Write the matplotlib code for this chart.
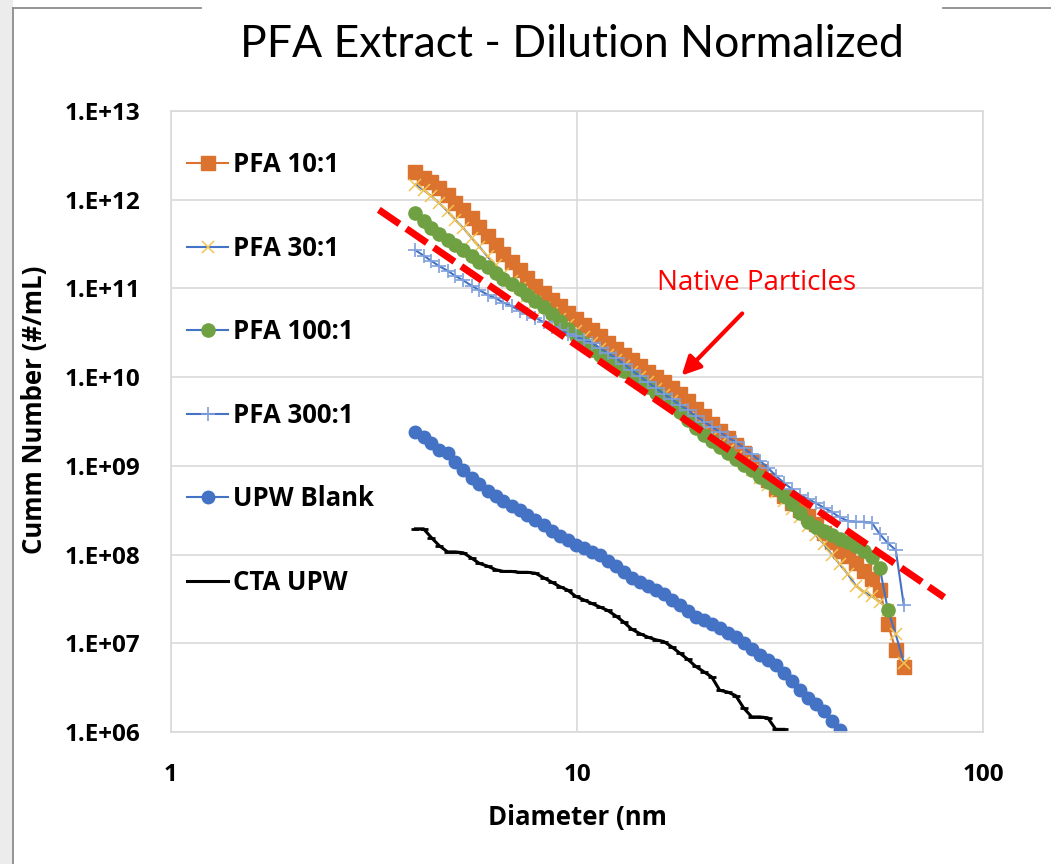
import numpy as np
import matplotlib
matplotlib.use("Agg")
import matplotlib.pyplot as plt
from matplotlib.lines import Line2D
from matplotlib.patches import Rectangle
from matplotlib.ticker import FixedLocator, FixedFormatter, NullLocator

plt.rcParams['font.family'] = ['Open Sans', 'DejaVu Sans']

# ---------------- data ----------------
DIAMETER_NM = [4.00, 4.19, 4.38, 4.58, 4.80, 5.02, 5.25, 5.50, 5.75, 6.02,
               6.30, 6.59, 6.90, 7.22, 7.55, 7.90, 8.27, 8.66, 9.06, 9.48,
               9.92, 10.38, 10.86, 11.37, 11.90, 12.45, 13.03, 13.63, 14.27, 14.93,
               15.62, 16.35, 17.11, 17.90, 18.73, 19.60, 20.52, 21.47, 22.47, 23.51,
               24.60, 25.74, 26.94, 28.19, 29.50, 30.87, 32.30, 33.80, 35.37, 37.01,
               38.73, 40.53, 42.41, 44.38, 46.44, 48.60, 50.86, 53.22, 55.69, 58.28,
               60.98, 63.82]

# cumulative number, stored as log10(#/mL)
PFA_10_LOG10 = [12.31, 12.25, 12.20, 12.13, 12.05, 11.96, 11.88, 11.79, 11.69, 11.59,
                11.49, 11.39, 11.30, 11.21, 11.12, 11.03, 10.95, 10.87, 10.80, 10.72,
                10.65, 10.59, 10.53, 10.46, 10.39, 10.32, 10.25, 10.19, 10.12, 10.06,
                10.00, 9.94, 9.88, 9.81, 9.73, 9.64, 9.56, 9.47, 9.39, 9.31,
                9.24, 9.14, 9.04, 8.94, 8.84, 8.74, 8.66, 8.58, 8.50, 8.43,
                8.34, 8.24, 8.14, 8.04, 7.98, 7.91, 7.82, 7.72, 7.60, 7.22,
                6.92, 6.73]

PFA_30_LOG10 = [12.17, 12.11, 12.04, 11.96, 11.87, 11.77, 11.68, 11.57, 11.47, 11.36,
                11.26, 11.16, 11.08, 11.00, 10.92, 10.85, 10.78, 10.72, 10.66, 10.59,
                10.52, 10.45, 10.39, 10.32, 10.25, 10.19, 10.12, 10.06, 10.00, 9.94,
                9.87, 9.80, 9.73, 9.63, 9.54, 9.46, 9.39, 9.32, 9.25, 9.18,
                9.10, 9.03, 8.95, 8.86, 8.78, 8.70, 8.60, 8.51, 8.42, 8.32,
                8.22, 8.12, 8.00, 7.89, 7.78, 7.65, 7.58, 7.53, 7.47, 7.38,
                7.10, 6.78]

PFA_100_LOG10 = [11.85, 11.76, 11.68, 11.61, 11.55, 11.49, 11.43, 11.36, 11.30, 11.24,
                 11.17, 11.11, 11.05, 10.99, 10.93, 10.86, 10.79, 10.71, 10.63, 10.54,
                 10.46, 10.38, 10.31, 10.25, 10.19, 10.13, 10.07, 10.01, 9.95, 9.89,
                 9.82, 9.75, 9.69, 9.61, 9.52, 9.43, 9.35, 9.28, 9.21, 9.14,
                 9.08, 9.01, 8.95, 8.88, 8.82, 8.75, 8.66, 8.57, 8.47, 8.37,
                 8.31, 8.27, 8.22, 8.17, 8.14, 8.10, 8.04, 7.97, 7.85, 7.38]

PFA_300_LOG10 = [11.43, 11.37, 11.31, 11.25, 11.20, 11.14, 11.09, 11.03, 10.98, 10.93,
                 10.89, 10.84, 10.80, 10.75, 10.71, 10.67, 10.62, 10.57, 10.53, 10.49,
                 10.46, 10.42, 10.39, 10.33, 10.27, 10.22, 10.15, 10.08, 10.01, 9.94,
                 9.88, 9.81, 9.75, 9.69, 9.63, 9.56, 9.50, 9.44, 9.38, 9.32,
                 9.27, 9.20, 9.13, 9.06, 8.98, 8.89, 8.81, 8.74, 8.67, 8.63,
                 8.58, 8.53, 8.48, 8.42, 8.38, 8.37, 8.37, 8.36, 8.23, 8.13,
                 8.05, 7.43]

UPW_BLANK_LOG10 = [9.38, 9.32, 9.26, 9.18, 9.14, 9.04, 8.95, 8.86, 8.79, 8.72,
                   8.66, 8.60, 8.55, 8.50, 8.45, 8.39, 8.33, 8.27, 8.21, 8.16,
                   8.11, 8.07, 8.03, 7.99, 7.93, 7.87, 7.80, 7.74, 7.69, 7.65,
                   7.60, 7.55, 7.49, 7.43, 7.36, 7.30, 7.26, 7.22, 7.17, 7.12,
                   7.07, 7.00, 6.93, 6.87, 6.81, 6.75, 6.67, 6.57, 6.47, 6.38,
                   6.31, 6.24, 6.12, 6.02]

CTA_UPW_LOG10 = [8.29, 8.29, 8.19, 8.10, 8.03, 8.03, 8.02, 7.96, 7.90, 7.87,
                 7.83, 7.81, 7.81, 7.80, 7.80, 7.79, 7.74, 7.69, 7.64, 7.60,
                 7.53, 7.49, 7.45, 7.41, 7.37, 7.31, 7.24, 7.16, 7.11, 7.07,
                 7.04, 7.02, 6.96, 6.89, 6.82, 6.74, 6.68, 6.62, 6.47, 6.45,
                 6.41, 6.27, 6.17, 6.17, 6.16, 6.03, 6.03]

SERIES_LABELS = ['PFA 10:1', 'PFA 30:1', 'PFA 100:1', 'PFA 300:1', 'UPW Blank', 'CTA UPW']

NATIVE_X = [3.25, 80.2]
NATIVE_Y = [7.7e11, 3.3e7]
NATIVE_LABEL = 'Native Particles'
ARROW_TAIL = (25.8, 5.5e10)
ARROW_HEAD = (17.9, 9.9e9)
NATIVE_TEXT_POS = (27.7, 1.15e11)

X_TICKS = [1, 10, 100]
X_TICK_LABELS = ['1', '10', '100']
Y_TICKS = [1e6, 1e7, 1e8, 1e9, 1e10, 1e11, 1e12, 1e13]
Y_TICK_LABELS = ['1.E+06', '1.E+07', '1.E+08', '1.E+09', '1.E+10', '1.E+11', '1.E+12', '1.E+13']

TITLE = 'PFA Extract - Dilution Normalized'
X_LABEL = 'Diameter (nm'
Y_LABEL = 'Cumm Number (#/mL)'

# ---------------- figure ----------------
W, H = 1051, 864
fig = plt.figure(figsize=(W / 100, H / 100), dpi=100)
fig.patch.set_facecolor('white')

# slide frame
fig.add_artist(Rectangle((0, 0), 13 / W, 1, transform=fig.transFigure,
                         facecolor='#ececec', edgecolor='none', zorder=0))
frame_kw = dict(color='#8c8c8c', lw=1.3, transform=fig.transFigure)
fig.add_artist(Line2D([13 / W, 13 / W], [0, 1 - 8 / H], **frame_kw))
fig.add_artist(Line2D([13 / W, 201 / W], [1 - 8 / H, 1 - 8 / H], **frame_kw))
fig.add_artist(Line2D([943 / W, 1], [1 - 8 / H, 1 - 8 / H], **frame_kw))

ax = fig.add_axes([171 / W, 132 / H, 812 / W, 621 / H])
ax.set_xscale('log')
ax.set_yscale('log')

BLUE = '#4472C4'
ORANGE = '#DB722D'
GREEN = '#6FA143'
YELLOW = '#F4C452'
LBLUE = '#7E9FDC'

x = np.array(DIAMETER_NM)
ax.plot(x[:len(PFA_10_LOG10)], 10 ** np.array(PFA_10_LOG10), color=ORANGE, lw=1.5,
        marker='s', ms=9.5, mfc=ORANGE, mec=ORANGE, label=SERIES_LABELS[0])
ax.plot(x[:len(PFA_30_LOG10)], 10 ** np.array(PFA_30_LOG10), color=BLUE, lw=1.5,
        marker='x', ms=8.5, mec=YELLOW, mew=1.1, label=SERIES_LABELS[1])
ax.plot(x[:len(PFA_100_LOG10)], 10 ** np.array(PFA_100_LOG10), color=BLUE, lw=1.5,
        marker='o', ms=9.5, mfc=GREEN, mec=GREEN, label=SERIES_LABELS[2])
ax.plot(x[:len(PFA_300_LOG10)], 10 ** np.array(PFA_300_LOG10), color=BLUE, lw=1.5,
        marker='+', ms=9.5, mec=LBLUE, mew=1.2, label=SERIES_LABELS[3])
ax.plot(x[:len(UPW_BLANK_LOG10)], 10 ** np.array(UPW_BLANK_LOG10), color=BLUE, lw=1.5,
        marker='o', ms=9, mfc=BLUE, mec=BLUE, label=SERIES_LABELS[4])
ax.plot(x[:len(CTA_UPW_LOG10)], 10 ** np.array(CTA_UPW_LOG10), color='black', lw=2.2,
        marker='_', ms=6, mew=2, label=SERIES_LABELS[5])

# native particles trend line + annotation
ax.plot(NATIVE_X, NATIVE_Y, color='#FF0000', lw=5, dashes=(3.6, 1.2), zorder=10,
        solid_capstyle='butt', dash_capstyle='butt')
ax.annotate('', xy=ARROW_HEAD, xytext=ARROW_TAIL,
            arrowprops=dict(arrowstyle='-|>', color='#FF0000', lw=3, mutation_scale=28),
            zorder=11)
ax.text(NATIVE_TEXT_POS[0], NATIVE_TEXT_POS[1], NATIVE_LABEL, color='#FF0000',
        fontsize=20, ha='center', va='center', zorder=11)

ax.set_xlim(1, 100)
ax.set_ylim(1e6, 1e13)
ax.xaxis.set_major_locator(FixedLocator(X_TICKS))
ax.xaxis.set_major_formatter(FixedFormatter(X_TICK_LABELS))
ax.yaxis.set_major_locator(FixedLocator(Y_TICKS))
ax.yaxis.set_major_formatter(FixedFormatter(Y_TICK_LABELS))
ax.xaxis.set_minor_locator(NullLocator())
ax.yaxis.set_minor_locator(NullLocator())
ax.grid(True, which='major', color='#d9d9d9', lw=1.2, zorder=0)
ax.set_axisbelow(True)
for s in ax.spines.values():
    s.set_color('#d9d9d9')
    s.set_linewidth(1.2)
ax.tick_params(axis='both', length=0, labelsize=17.5)
ax.tick_params(axis='x', pad=22)
ax.tick_params(axis='y', pad=22)
for lab in ax.get_xticklabels() + ax.get_yticklabels():
    lab.set_fontweight('bold')

leg = ax.legend(loc='upper left', bbox_to_anchor=(187 / W, 1 - 151 / H),
                bbox_transform=fig.transFigure, frameon=False,
                prop=dict(weight='bold', size=18.5), handlelength=1.6,
                handletextpad=0.2, labelspacing=2.2, borderpad=0,
                borderaxespad=0, numpoints=1)

fig.text(572 / W, 1 - 57 / H, TITLE, fontsize=32, ha='center', va='baseline',
         family=['Lato', 'DejaVu Sans'], fontweight='normal')
fig.text(577 / W, 1 - 818 / H, X_LABEL, fontsize=18.5, fontweight='bold',
         ha='center', va='center')
fig.text(35 / W, 1 - 410 / H, Y_LABEL, fontsize=18.5, fontweight='bold',
         ha='center', va='center', rotation=90)

fig.savefig('out.png', dpi=100, facecolor='white')
